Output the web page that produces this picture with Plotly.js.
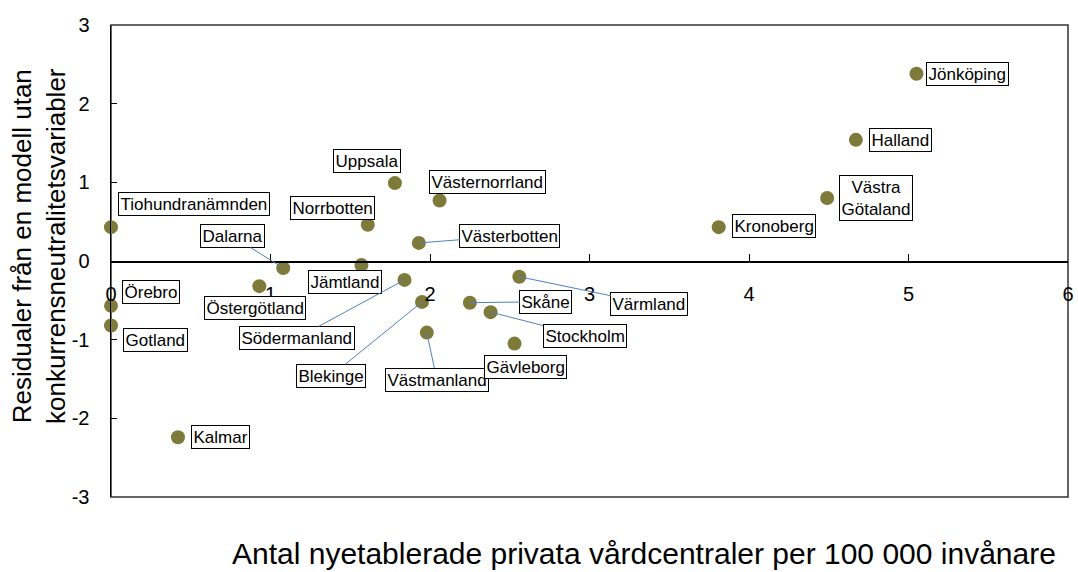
<!DOCTYPE html>
<html>
<head>
<meta charset="utf-8">
<script src="https://cdn.plot.ly/plotly-3.0.1.min.js"></script>
<style>
html,body{margin:0;padding:0;background:#fff;}
#chart{width:1078px;height:572px;}
</style>
</head>
<body>
<div id="chart"></div>
<script>
// ---- data ----
const regions = ["Jönköping","Halland","Västra<br>Götaland","Kronoberg","Uppsala","Västernorrland","Norrbotten","Västerbotten","Tiohundranämnden","Dalarna","Jämtland","Östergötland","Örebro","Gotland","Södermanland","Blekinge","Västmanland","Skåne","Stockholm","Gävleborg","Värmland","Kalmar"];
const newClinics = [5.05,4.67,4.49,3.81,1.78,2.06,1.61,1.93,0.00,1.08,1.57,0.93,0.00,0.00,1.84,1.95,1.98,2.25,2.38,2.53,2.56,0.42];
const residuals = [2.38,1.54,0.80,0.43,0.99,0.77,0.46,0.23,0.43,-0.09,-0.05,-0.32,-0.57,-0.82,-0.24,-0.52,-0.91,-0.53,-0.65,-1.05,-0.20,-2.24];
const xTickVals = [0,1,2,3,4,5,6];
const yTickVals = [-3,-2,-1,0,1,2,3];
const xTitle = "Antal nyetablerade privata vårdcentraler per 100 000 invånare";
const yTitle = "Residualer från en modell utan<br>konkurrensneutralitetsvariabler";

// ---- label placement (pixel offsets of label box centre from point; leader line flag) ----
const labelLayout = [
  [51,0,false],[45,0,false],[49,0,false],[55,-1,false],[-28,-22,false],[48,-18,false],
  [-35,-17,false],[91,-7,true],[83,-23,false],[-51,-32,true],[-16,17,false],[-4,22,false],
  [40,-14,false],[44,14,false],[-107,58,true],[-91,74,true],[10,47,true],[76,-1,true],
  [94,24,true],[11,23,false],[130,27,true],[43,0,false]
];

const FONT = "Liberation Sans, Arial, sans-serif";

const trace = {
  type: "scatter",
  mode: "markers",
  x: newClinics,
  y: residuals,
  marker: {size: 14, color: "#7e7a3a"},
  hoverinfo: "skip",
  cliponaxis: false
};

const annotations = regions.map((name, i) => ({
  x: newClinics[i], y: residuals[i], xref: "x", yref: "y",
  text: name,
  showarrow: true,
  ax: labelLayout[i][0], ay: labelLayout[i][1],
  axref: "pixel", ayref: "pixel",
  arrowhead: 0, arrowwidth: 1, standoff: 0, startstandoff: 0,
  arrowcolor: labelLayout[i][2] ? "#4f81bd" : "rgba(0,0,0,0)",
  font: {family: FONT, size: 17, color: "#000"},
  bgcolor: "#fff", bordercolor: "#000", borderwidth: 1, borderpad: 1.5,
  align: "center"
}));

annotations.push({
  xref: "paper", yref: "paper", x: (230-111)/957, y: (497-553)/472,
  xanchor: "left", yanchor: "middle", showarrow: false,
  text: xTitle, font: {family: FONT, size: 30, color: "#000"}
});
annotations.push({
  xref: "paper", yref: "paper", x: (39-111)/957, y: (497-246)/472,
  xanchor: "center", yanchor: "middle", showarrow: false, textangle: -90,
  text: yTitle, font: {family: FONT, size: 26, color: "#000"}
});

const layout = {
  width: 1078, height: 572,
  margin: {l: 111, r: 10, t: 25, b: 75},
  paper_bgcolor: "#fff", plot_bgcolor: "#fff",
  showlegend: false,
  font: {family: FONT, color: "#000"},
  xaxis: {
    range: [0, 6], tickvals: xTickVals, ticktext: xTickVals.map(String),
    anchor: "free", position: 0.5,
    showline: true, linecolor: "#000", linewidth: 1.5,
    ticks: "inside", ticklen: 7, tickcolor: "#000", tickwidth: 1,
    showgrid: false, zeroline: false,
    tickfont: {family: FONT, size: 20, color: "#000"},
    ticklabelstandoff: 14,
    fixedrange: true
  },
  yaxis: {
    range: [-3, 3], tickvals: yTickVals, ticktext: yTickVals.map(String),
    showline: true, linecolor: "#000", linewidth: 1.5,
    ticks: "inside", ticklen: 6, tickcolor: "#000", tickwidth: 1,
    showgrid: false, zeroline: false,
    tickfont: {family: FONT, size: 20, color: "#000"},
    ticklabelstandoff: 16,
    fixedrange: true
  },
  shapes: [{
    type: "rect", xref: "paper", yref: "paper", x0: 0, x1: 1, y0: 0, y1: 1,
    line: {color: "#333", width: 1.5}, layer: "below"
  }],
  annotations: annotations
};

Plotly.newPlot("chart", [trace], layout, {displayModeBar: false, staticPlot: true});
</script>
</body>
</html>
